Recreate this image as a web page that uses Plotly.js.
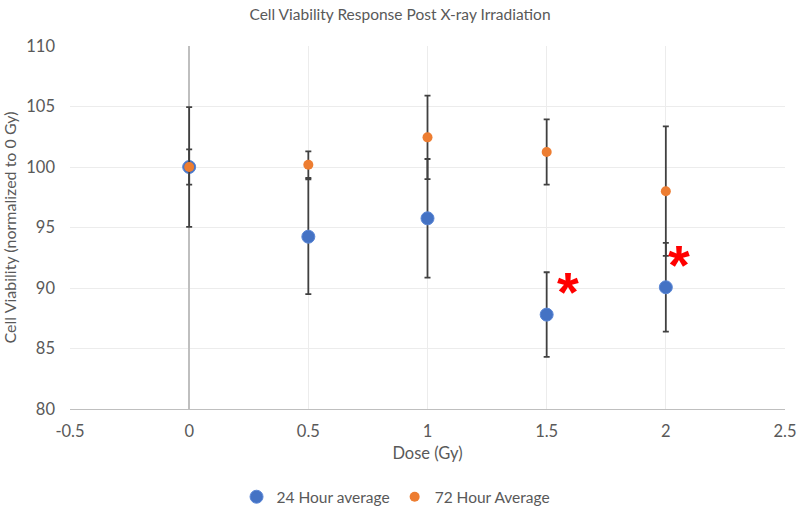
<!DOCTYPE html>
<html>
<head>
<meta charset="utf-8">
<script src="https://cdn.plot.ly/plotly-3.0.1.min.js"></script>
<style>html,body{margin:0;padding:0;background:#fff;}#chart{width:800px;height:512px;}</style>
</head>
<body>
<div id="chart"></div>
<script>
const doses = [0, 0.5, 1, 1.5, 2];
const avg24 = [100, 94.24, 95.76, 87.8, 90.06];
const err24 = [4.95, 4.74, 4.9, 3.5, 3.67];
const avg72 = [100, 100.19, 102.45, 101.24, 98.0];
const err72 = [1.45, 1.1, 3.45, 2.7, 5.35];
const starX = [1.59, 2.056];
const starY = [90.2, 92.4];
const xTicks = [-0.5, 0, 0.5, 1, 1.5, 2, 2.5];
const yTicks = [80, 85, 90, 95, 100, 105, 110];

const FONT = 'Lato, "Open Sans", sans-serif';
const errStyle = {type: 'data', visible: true, color: '#404040', thickness: 1.8, width: 3};

const traces = [
  {
    x: doses, y: avg24, type: 'scatter', mode: 'markers', name: '24 Hour average',
    marker: {color: '#4472C4', size: 13, line: {color: '#5b87d6', width: 1}},
    error_y: Object.assign({array: err24}, errStyle)
  },
  {
    x: doses, y: avg72, type: 'scatter', mode: 'markers', name: '72 Hour Average',
    marker: {color: '#ED7D31', size: 10, line: {width: 0}},
    error_y: Object.assign({array: err72}, errStyle)
  }
];

const annotations = starX.map((sx, i) => ({
  x: sx, y: starY[i], xref: 'x', yref: 'y', text: '<b>*</b>', showarrow: false,
  font: {family: '"Liberation Sans", Arial, sans-serif', size: 56, color: '#ff0000'},
  xanchor: 'center', yanchor: 'middle', yshift: -6
}));

const layout = {
  width: 800, height: 512,
  margin: {l: 70, r: 15, t: 46, b: 103, autoexpand: false},
  paper_bgcolor: '#ffffff', plot_bgcolor: '#ffffff',
  font: {family: FONT, color: '#595959', size: 15},
  title: {text: 'Cell Viability Response Post X-ray Irradiation', font: {family: FONT, size: 15.5, color: '#595959'},
          x: 0.5, xanchor: 'center', y: 0.972, yanchor: 'middle', yref: 'container'},
  xaxis: {
    range: [-0.5, 2.5], tickvals: xTicks, ticktext: xTicks.map(String),
    showgrid: true, gridcolor: '#ececec', gridwidth: 1,
    zeroline: true, zerolinecolor: '#bfbfbf', zerolinewidth: 1.5,
    showline: true, linecolor: '#bfbfbf', linewidth: 1.2,
    ticks: '', tickfont: {size: 16.5, color: '#595959'}, ticklabelstandoff: 7, automargin: false,
    title: {text: 'Dose (Gy)', font: {size: 16.5, color: '#595959'}, standoff: 7}
  },
  yaxis: {
    range: [80, 110], tickvals: yTicks, ticktext: yTicks.map(String),
    showgrid: true, gridcolor: '#ececec', gridwidth: 1,
    zeroline: false, showline: false, ticks: '', automargin: false,
    tickfont: {size: 16.5, color: '#595959'}, ticklabelstandoff: 14,
    title: {text: 'Cell Viability (normalized to 0 Gy)', font: {size: 16, color: '#595959'}, standoff: 6}
  },
  showlegend: true,
  legend: {orientation: 'h', x: 0.456, xref: 'paper', xanchor: 'center', y: 0.029, yref: 'container', yanchor: 'middle',
           font: {size: 15.5, color: '#595959'}, itemsizing: 'trace', itemwidth: 30},
  annotations: annotations
};

Plotly.newPlot('chart', traces, layout, {displayModeBar: false, staticPlot: true});
</script>
</body>
</html>
